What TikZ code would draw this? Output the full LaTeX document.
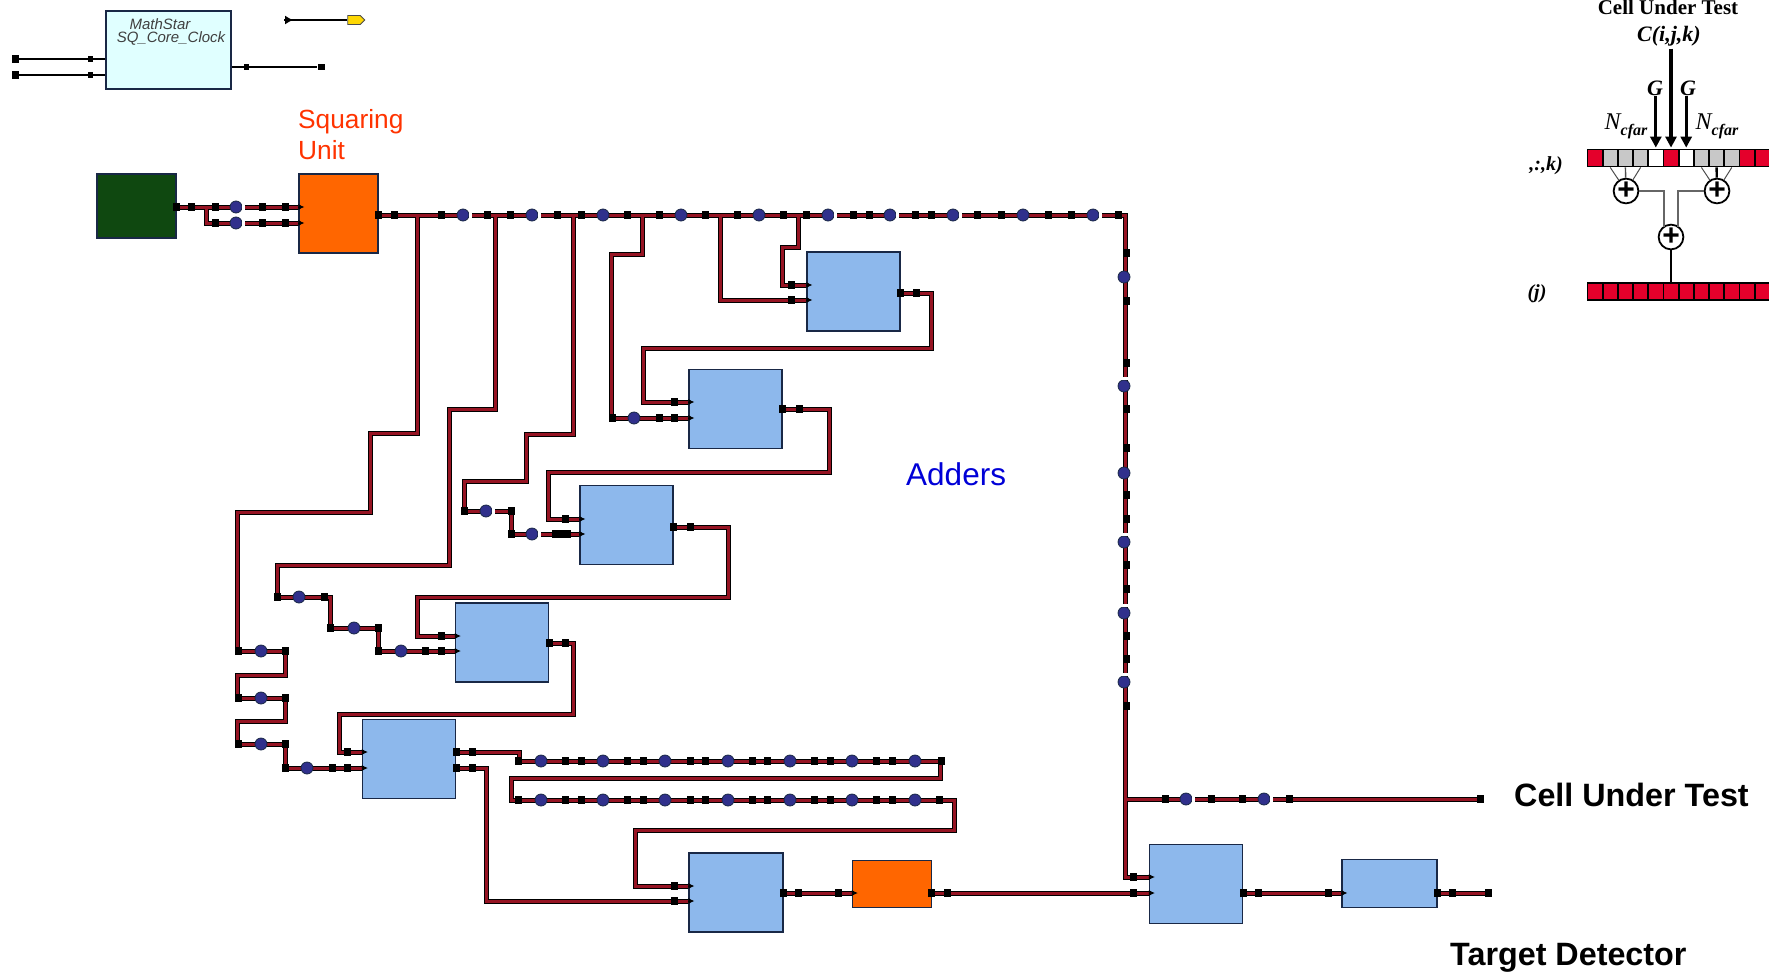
\documentclass[tikz,border=0pt]{standalone}
\usepackage{fontspec}
\setmainfont{Liberation Sans}
\newfontfamily\paperfont{Liberation Serif}
\usetikzlibrary{shapes.symbols,arrows.meta,positioning}
\definecolor{wireRed}{RGB}{150,20,35}
\definecolor{adderBlue}{RGB}{141,184,236}
\definecolor{edgeNavy}{RGB}{25,40,70}
\definecolor{dotBlue}{RGB}{48,48,140}
\definecolor{squareOrange}{RGB}{255,102,0}
\definecolor{sourceGreen}{RGB}{15,72,16}
\definecolor{clockCyan}{RGB}{224,255,255}
\definecolor{cellRed}{RGB}{228,0,43}
\definecolor{cellGray}{RGB}{200,200,200}
\definecolor{unitRed}{RGB}{255,51,0}
\definecolor{adderText}{RGB}{0,0,215}
\tikzset{
  baseblock/.style={draw=edgeNavy, line width=1.2pt, inner sep=0pt},
  adderblock/.style={baseblock, fill=adderBlue, minimum width=93pt, minimum height=79pt},
  wire/.style={draw=black, line width=1pt, double=wireRed, double distance=3pt},
  wirepin/.style={fill=black, inner sep=0pt, minimum width=7pt, minimum height=8pt},
  wiredot/.style={circle, fill=dotBlue, draw=edgeNavy, line width=.8pt, inner sep=0pt, minimum size=12pt},
  wiregap/.style={fill=white, inner sep=0pt, outer sep=0pt, minimum width=3pt, minimum height=8pt},
  wiregapup/.style={fill=white, inner sep=0pt, outer sep=0pt, minimum width=8pt, minimum height=3pt},
  intip/.style={-{Latex[length=6pt,width=6pt]}, black, line width=1pt},
  thinline/.style={black, line width=1.1pt},
  sumnode/.style={circle, draw=black, fill=white, line width=1.8pt, inner sep=0pt, minimum size=24pt,
    font=\fontsize{30}{30}\selectfont\bfseries},
  stripcell/.style={draw=black, line width=1.8pt, inner sep=0pt, minimum width=15.2pt, minimum height=17pt},
  feedarrow/.style={-{Triangle[length=11pt,width=11pt]}, black, line width=3pt, shorten >=1pt},
  paperlabel/.style={inner sep=0pt, font=\paperfont\fontsize{22}{22}\selectfont\bfseries\itshape},
  captionlabel/.style={anchor=west, inner sep=0pt, font=\fontsize{32.3}{38}\selectfont\bfseries},
}
\begin{document}
\begin{tikzpicture}[x=1pt,y=-1pt]
  \useasboundingbox (0,0) rectangle (1769,972);

  % clock block and legend
  \node[baseblock, fill=clockCyan, minimum width=125pt, minimum height=78pt] (clockBlock) at (168.5,50) {};
  \node[inner sep=0pt, font=\itshape\fontsize{15}{15}\selectfont, text=black!75] (clockTitle) at (160,24) {MathStar};
  \node[inner sep=0pt, font=\itshape\fontsize{15}{15}\selectfont, text=black!75] (clockName) at (171,38) {SQ\_Core\_Clock};
  \node[wirepin] (clockInA) at (15,59) {};
  \node[wirepin] (clockInB) at (15,75) {};
  \node[wirepin, minimum width=5pt, minimum height=6pt] (clockPinA) at (90,59) {};
  \node[wirepin, minimum width=5pt, minimum height=6pt] (clockPinB) at (90,75) {};
  \node[wirepin, minimum width=5pt, minimum height=6pt] (clockPinC) at (246,67) {};
  \node[wirepin, minimum height=6pt] (clockOut) at (321,67) {};
  \draw[thinline] (clockInA) -- (clockInA -| clockBlock.west);
  \draw[thinline] (clockInB) -- (clockInB -| clockBlock.west);
  \draw[thinline] (clockOut -| clockBlock.east) -- (clockOut);
  \node[signal, signal to=east, draw=black!70, fill=yellow!75!orange, line width=.8pt, inner sep=0pt,
        minimum width=17pt, minimum height=9pt] (legendEnd) at (354,20) {};
  \coordinate (legendStart) at (284,20);
  \coordinate (legendTip) at (293,20);
  \draw[thinline] (legendStart) -- (legendEnd);
  \draw[intip, -{Latex[length=8pt,width=9pt]}] (legendStart) -- (legendTip);

  % blocks
  \node[baseblock, fill=sourceGreen, minimum width=79pt, minimum height=64pt] (sourceBlock) at (136.5,206) {};
  \node[baseblock, fill=squareOrange, minimum width=79pt, minimum height=79pt] (squarer) at (338.5,213.5) {};
  \node[adderblock] (adderOne) at (853.5,291.5) {};
  \node[adderblock] (adderTwo) at (735.5,409) {};
  \node[adderblock] (adderThree) at (626.5,525) {};
  \node[adderblock] (adderFour) at (502,642.5) {};
  \node[adderblock] (adderFive) at (409,759) {};
  \node[adderblock, minimum width=94pt] (adderSix) at (736,892.5) {};
  \node[baseblock, fill=squareOrange, minimum width=79pt, minimum height=47pt] (squarerTwo) at (892,884) {};
  \node[adderblock] (adderSeven) at (1196,884) {};
  \node[adderblock, minimum width=95pt, minimum height=48pt] (detector) at (1389.5,883.5) {};

  % ports
  \coordinate (srcOut) at (sourceBlock.east |- 0,207);
  \coordinate (sqInA) at (squarer.west |- 0,207);
  \coordinate (sqInB) at (squarer.west |- 0,223);
  \coordinate (sqOut) at (squarer.east |- 0,215);
  \coordinate (aOneInA) at (adderOne.west |- 0,285);
  \coordinate (aOneInB) at (adderOne.west |- 0,300);
  \coordinate (aOneOut) at (adderOne.east |- 0,293);
  \coordinate (aTwoInA) at (adderTwo.west |- 0,402);
  \coordinate (aTwoInB) at (adderTwo.west |- 0,418);
  \coordinate (aTwoOut) at (adderTwo.east |- 0,409);
  \coordinate (aThreeInA) at (adderThree.west |- 0,519);
  \coordinate (aThreeInB) at (adderThree.west |- 0,534);
  \coordinate (aThreeOut) at (adderThree.east |- 0,527);
  \coordinate (aFourInA) at (adderFour.west |- 0,636);
  \coordinate (aFourInB) at (adderFour.west |- 0,651);
  \coordinate (aFourOut) at (adderFour.east |- 0,643);
  \coordinate (aFiveInA) at (adderFive.west |- 0,752);
  \coordinate (aFiveInB) at (adderFive.west |- 0,768);
  \coordinate (aFiveOutA) at (adderFive.east |- 0,752);
  \coordinate (aFiveOutB) at (adderFive.east |- 0,768);
  \coordinate (aSixInA) at (adderSix.west |- 0,886);
  \coordinate (aSixInB) at (adderSix.west |- 0,901);
  \coordinate (aSixOut) at (adderSix.east |- 0,893);
  \coordinate (sqTwoIn) at (squarerTwo.west |- 0,893);
  \coordinate (sqTwoOut) at (squarerTwo.east |- 0,893);
  \coordinate (aSevenInA) at (adderSeven.west |- 0,877);
  \coordinate (aSevenInB) at (adderSeven.west |- 0,893);
  \coordinate (aSevenOut) at (adderSeven.east |- 0,893);
  \coordinate (detIn) at (detector.west |- 0,893);
  \coordinate (detOut) at (detector.east |- 0,893);
  \coordinate (cutEnd) at (1478,799);
  \coordinate (detEnd) at (1486,893);

  % wires
  \draw[wire] (srcOut) -- (sqInA) (206,207) -- (206,223) -- (sqInB);
  \draw[wire] (sqOut) -- (1125,215) -- (1125,877) -- (aSevenInA)
    (1125,799) -- (cutEnd)
    (417,215) -- (417,433) -- (370,433) -- (370,512) -- (237,512) -- (237,651) -- (285,651) -- (285,675)
      -- (237,675) -- (237,698) -- (285,698) -- (285,721) -- (237,721) -- (237,744) -- (285,744) -- (285,768) -- (aFiveInB)
    (495,215) -- (495,409) -- (449,409) -- (449,565) -- (277,565) -- (277,597) -- (330,597) -- (330,628)
      -- (378,628) -- (378,651) -- (aFourInB)
    (573,215) -- (573,434) -- (526,434) -- (526,481) -- (464,481) -- (464,511) -- (511,511) -- (511,534) -- (aThreeInB)
    (642,215) -- (642,254) -- (611,254) -- (611,418) -- (aTwoInB)
    (720,215) -- (720,300) -- (aOneInB)
    (798,215) -- (798,247) -- (782,247) -- (782,285) -- (aOneInA);
  \draw[wire] (aOneOut) -- (931,293) -- (931,348) -- (643,348) -- (643,402) -- (aTwoInA);
  \draw[wire] (aTwoOut) -- (829,409) -- (829,472) -- (548,472) -- (548,519) -- (aThreeInA);
  \draw[wire] (aThreeOut) -- (728,527) -- (728,597) -- (417,597) -- (417,636) -- (aFourInA);
  \draw[wire] (aFourOut) -- (573,643) -- (573,714) -- (339,714) -- (339,752) -- (aFiveInA);
  \draw[wire] (aFiveOutA) -- (519,752) -- (519,761) -- (940,761) -- (940,778) -- (511,778) -- (511,800)
    -- (954,800) -- (954,830) -- (635,830) -- (635,886) -- (aSixInA);
  \draw[wire] (aFiveOutB) -- (486,768) -- (486,901) -- (aSixInB);
  \draw[wire] (aSixOut) -- (sqTwoIn);
  \draw[wire] (sqTwoOut) -- (aSevenInB);
  \draw[wire] (aSevenOut) -- (detIn);
  \draw[wire] (detOut) -- (detEnd);

  % pins along the wires
  \foreach \x/\y [count=\k] in {176/207,191/207,215/207,262/207,285/207,215/223,262/223,285/223,
      378/215,394/215,441/215,487/215,510/215,557/215,581/215,627/215,659/215,705/215,737/215,783/215,
      806/215,853/215,869/215,915/215,931/215,977/215,1001/215,1048/215,1071/215,1118/215,
      1126/253,1126/301,1126/363,1126/409,1126/448,1126/495,1126/519,1126/565,1126/589,1126/636,1126/659,1126/706,
      1165/799,1211/799,1242/799,1289/799,1480/799,1133/877,1133/893,1243/893,1258/893,1328/893,1437/893,1452/893,1488/893,
      791/285,791/300,900/293,916/293,674/402,612/418,659/418,674/418,782/409,799/409,
      565/519,464/511,511/511,511/534,555/534,561/534,567/534,673/527,690/527,
      441/636,378/651,425/651,441/651,277/597,324/597,330/628,378/628,549/643,565/643,
      238/651,285/651,238/698,285/698,238/744,285/744,285/768,332/768,347/768,347/752,
      456/752,472/752,456/768,472/768,674/886,674/901,783/893,798/893,838/893,931/893,947/893,
      518/761,941/761,518/800,939/800}
    \node[wirepin] (wirePin\k) at (\x,\y) {};
  \foreach \x in {565,581,627,643,690,705,752,767,814,830,876,892} {
    \node[wirepin] (chainPinA\x) at (\x,761) {};
    \node[wirepin] (chainPinB\x) at (\x,800) {};
  }

  % buffer dots
  \foreach \x/\y [count=\k] in {603/215,681/215,759/215,1023/215,1124/277,1124/473,
      634/418,401/651,354/628,299/597,261/651,261/698,261/744,307/768}
    \node[wiredot] (wireDot\k) at (\x,\y) {};
  \foreach \x/\y [count=\k] in {236/207,236/223,463/215,532/215,828/215,890/215,953/215,1093/215,
      486/511,532/534,1186/799,1264/799} {
    \node[wiredot] (gapDot\k) at (\x,\y) {};
    \node[wiregap, right=0pt of gapDot\k] (gapMark\k) {};
  }
  \foreach \y in {386,542,613,682} {
    \node[wiredot] (busDot\y) at (1124,\y) {};
    \node[wiregapup, above=0pt of busDot\y] (busMark\y) {};
  }
  \foreach \x in {541,603,665,728,790,852,915} {
    \node[wiredot] (chainDotA\x) at (\x,761) {};
    \node[wiredot] (chainDotB\x) at (\x,800) {};
  }

  % input tips
  \foreach \p in {sqInA,sqInB,aOneInA,aOneInB,aTwoInA,aTwoInB,aThreeInA,aThreeInB,aFourInA,aFourInB,
      aFiveInA,aFiveInB,aSixInA,aSixInB,sqTwoIn,aSevenInA,aSevenInB,detIn}
    \draw[intip] (\p) -- ++(6,0);

  % labels
  \node[anchor=west, inner sep=0pt, align=left, text=unitRed, font=\fontsize{26.3}{31}\selectfont] (squaringLabel) at (298,135) {Squaring\\Unit};
  \node[anchor=west, inner sep=0pt, text=adderText, font=\fontsize{31.5}{31}\selectfont] (addersLabel) at (906,474) {Adders};
  \node[captionlabel] (cutLabel) at (1514,795) {Cell Under Test};
  \node[captionlabel] (targetLabel) at (1450,958) {Target Detector};

  % cfar inset
  \foreach \c [count=\k] in {cellRed,cellGray,cellGray,cellGray,white,cellRed,white,cellGray,cellGray,cellGray,cellRed,cellRed}
    \node[stripcell, fill=\c] (sumCell\k) at ({1595+15.2*(\k-1)},158) {};
  \foreach \k in {1,...,12}
    \node[stripcell, fill=cellRed] (outCell\k) at ({1595+15.2*(\k-1)},291.5) {};
  \node[sumnode] (plusLeft) at (1626,191) {+};
  \node[sumnode] (plusRight) at (1717,191) {+};
  \node[sumnode] (plusMid) at (1671,237) {+};
  \coordinate (plusMidA) at (1664,227);
  \coordinate (plusMidB) at (1678,227);
  \draw[black!70, line width=1pt] (sumCell2.south) -- (plusLeft);
  \draw[black!70, line width=1.4pt] (sumCell3.south) -- (plusLeft);
  \draw[black!70, line width=1pt] (sumCell4.south) -- (plusLeft);
  \draw[black!70, line width=1pt] (sumCell8.south) -- (plusRight);
  \draw[black, line width=2.4pt] (sumCell9.south) -- (plusRight);
  \draw[black!70, line width=1pt] (sumCell10.south) -- (plusRight);
  \draw[black!60, line width=1.2pt] (plusLeft.east) -| (plusMidA);
  \draw[black!60, line width=1.2pt] (plusRight.west) -| (plusMidB);
  \draw[black, line width=1.6pt] (plusMid) -- (outCell6.north -| plusMid);
  \node[paperlabel] (cutFormula) at (1669,36.5) {C(i,j,k)};
  \node[paperlabel] (guardLeft) at (1655,88) {G};
  \node[paperlabel] (guardRight) at (1688,88) {G};
  \node[inner sep=0pt, font=\paperfont\itshape\fontsize{24}{24}\selectfont] (cfarLeft) at (1626,126) {N\raisebox{-6pt}{\fontsize{16}{16}\selectfont\bfseries cfar}};
  \node[inner sep=0pt, font=\paperfont\itshape\fontsize{24}{24}\selectfont] (cfarRight) at (1717,126) {N\raisebox{-6pt}{\fontsize{16}{16}\selectfont\bfseries cfar}};
  \node[paperlabel, font=\paperfont\fontsize{20}{20}\selectfont\bfseries\itshape] (cubeLabel) at (1546,166) {,:,k)};
  \node[paperlabel, font=\paperfont\fontsize{20}{20}\selectfont\bfseries\itshape] (rowLabel) at (1537,294) {(j)};
  \node[anchor=base, inner sep=0pt, font=\paperfont\fontsize{21}{21}\selectfont\bfseries] (insetTitle) at (1668,14.5) {Cell Under Test};
  \draw[feedarrow, line width=4pt, shorten <=2pt] (cutFormula.south -| sumCell6.north) -- (sumCell6.north);
  \draw[feedarrow] (guardLeft.south -| sumCell5.north) -- (sumCell5.north);
  \draw[feedarrow] (guardRight.south -| sumCell7.north) -- (sumCell7.north);
\end{tikzpicture}
\end{document}
